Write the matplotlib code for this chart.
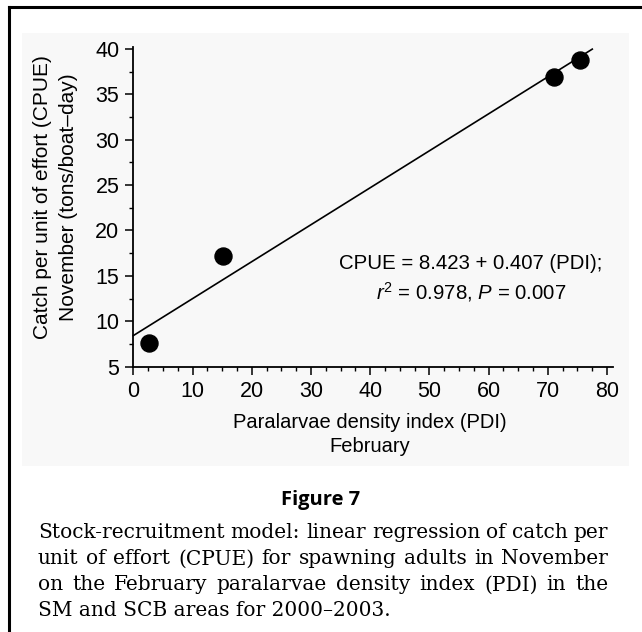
import matplotlib
matplotlib.use("Agg")
import matplotlib.pyplot as plt
from matplotlib.lines import Line2D
from matplotlib.patches import Rectangle
from matplotlib.ticker import MultipleLocator

plt.rcParams['font.family'] = ['Liberation Sans', 'DejaVu Sans']
plt.rcParams['mathtext.fontset'] = 'custom'
plt.rcParams['mathtext.rm'] = 'Liberation Sans'
plt.rcParams['mathtext.it'] = 'Liberation Sans:italic'

# data
pdi = [2.6, 15.2, 71.1, 75.5]      # paralarvae density index, February
cpue = [7.6, 17.2, 36.9, 38.8]     # catch per unit effort, November
intercept = 8.423
slope = 0.407
line_x = [0, 77.5]

x_ticks = [0, 10, 20, 30, 40, 50, 60, 70, 80]
y_ticks = [5, 10, 15, 20, 25, 30, 35, 40]

caption_lines = [
    "Stock-recruitment model: linear regression of catch per",
    "unit of effort (CPUE) for spawning adults in November",
    "on the February paralarvae density index (PDI) in the",
    "SM and SCB areas for 2000\u20132003.",
]

W, H = 642, 632
fig = plt.figure(figsize=(W / 100, H / 100), dpi=100)

# faint grey backdrop of the pasted-in graphic
fig.patches.append(Rectangle((22 / W, 1 - 466 / H), (629 - 22) / W, (466 - 33) / H,
                             transform=fig.transFigure, facecolor='#f8f8f8',
                             edgecolor='none', zorder=-1))
# frame (only top and left edges visible)
fig.lines.append(Line2D([8.5 / W, 1], [1 - 6.5 / H, 1 - 6.5 / H], transform=fig.transFigure,
                        color='black', lw=2.2))
fig.lines.append(Line2D([8.5 / W, 8.5 / W], [0, 1 - 6.5 / H], transform=fig.transFigure,
                        color='black', lw=2.2))

ax = fig.add_axes([133.3 / W, 265.3 / H, 479.7 / W, 319.7 / H])
ax.set_facecolor('none')
ax.set_zorder(2)

ax.scatter(pdi, cpue, s=150, color='black', zorder=3, clip_on=False)
line_y = [intercept + slope * v for v in line_x]
ax.plot(line_x, line_y, color='black', lw=1.2, clip_on=False)

ax.set_xlim(0, 81)
ax.set_ylim(5, 40.2)
ax.set_xticks(x_ticks)
ax.set_yticks(y_ticks)
ax.xaxis.set_minor_locator(MultipleLocator(2.5))
ax.yaxis.set_minor_locator(MultipleLocator(2.5))
ax.tick_params(which='major', direction='out', length=6, width=1.1, labelsize=15.5, pad=4)
ax.tick_params(which='minor', direction='out', length=3, width=1)
for s in ['top', 'right']:
    ax.spines[s].set_visible(False)
for s in ['left', 'bottom']:
    ax.spines[s].set_linewidth(1.3)

ax.text(57, 16.4, "CPUE = 8.423 + 0.407 (PDI);", ha='center', va='center', fontsize=14.7)
ax.text(57, 13.2, r"$r^2$ = 0.978, $P$ = 0.007", ha='center', va='center', fontsize=14.7)

fig.text(43 / W, 1 - 197 / H, "Catch per unit of effort (CPUE)", rotation=90,
         ha='center', va='center', fontsize=15)
fig.text(68 / W, 1 - 197 / H, "November (tons/boat\u2013day)", rotation=90,
         ha='center', va='center', fontsize=15)
fig.text(370 / W, 1 - 422 / H, "Paralarvae density index (PDI)", ha='center', va='center',
         fontsize=14.5)
fig.text(370 / W, 1 - 447 / H, "February", ha='center', va='center', fontsize=14.5)

fig.text(321 / W, 1 - 500 / H, "Figure 7", ha='center', va='center', fontsize=14.5,
         family=['Open Sans', 'DejaVu Sans'], weight='bold')

# caption, justified between x0 and x1
x0, x1 = 38, 608
renderer = fig.canvas.get_renderer()
for i, line in enumerate(caption_lines):
    y = 1 - (533 + 26 * i) / H
    words = line.split(' ')
    if i == len(caption_lines) - 1:
        fig.text(x0 / W, y, line, ha='left', va='center', fontsize=14.5,
                 family=['DejaVu Serif'])
        continue
    arts = [fig.text(0, y, w, ha='left', va='center', fontsize=14.5, family=['DejaVu Serif'])
            for w in words]
    widths = [a.get_window_extent(renderer).width for a in arts]
    gap = ((x1 - x0) - sum(widths)) / (len(words) - 1)
    xp = x0
    for a, wdt in zip(arts, widths):
        a.set_x(xp / W)
        xp += wdt + gap

fig.savefig("out.png", dpi=100)
